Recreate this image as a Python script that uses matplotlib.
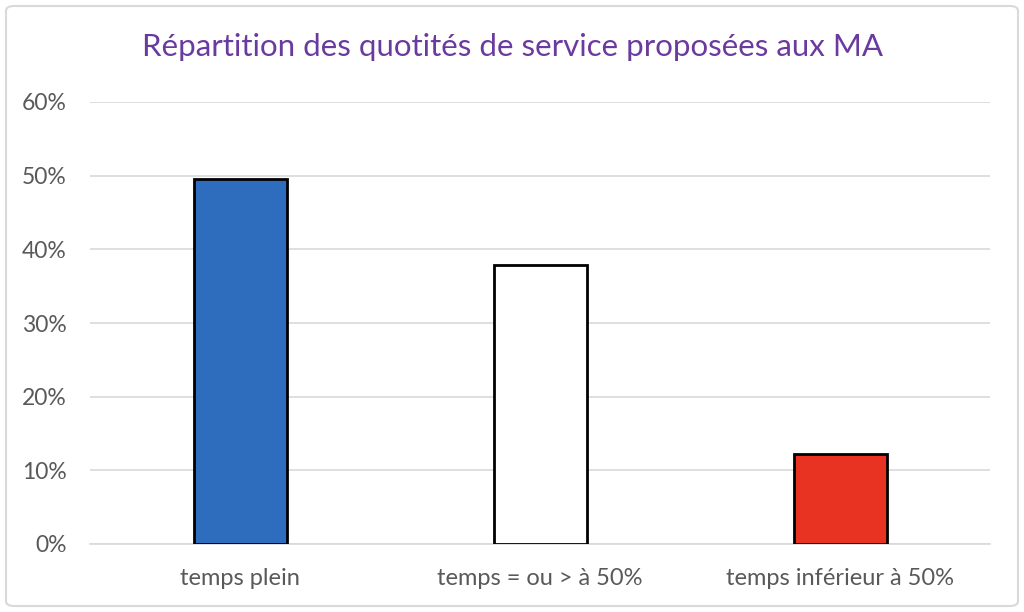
import matplotlib.pyplot as plt
from matplotlib.patches import FancyBboxPatch
from matplotlib.ticker import PercentFormatter

plt.rcParams['font.family'] = ['Lato', 'DejaVu Sans']

categories = ['temps plein', 'temps = ou > à 50%', 'temps inférieur à 50%']
values = [49.5, 37.9, 12.2]
colors = ['#2E6DBE', '#FFFFFF', '#E83323']
yticks = [0, 10, 20, 30, 40, 50, 60]

fig = plt.figure(figsize=(10.24, 6.12), dpi=100)
ax = fig.add_axes([90/1024, 1 - 544/612, 900/1024, 442/612])

# chart border
border = FancyBboxPatch((6/1024, 6/612), 1012/1024, 600/612,
                        boxstyle='round,pad=0,rounding_size=0.008',
                        transform=fig.transFigure, facecolor='none',
                        edgecolor='#D9D9D9', linewidth=1.5)
fig.patches.append(border)

x = range(len(categories))
ax.bar(x, values, width=0.31, color=colors, edgecolor='black',
       linewidth=2, zorder=3)

ax.set_xlim(-0.5, 2.5)
ax.set_ylim(0, 60)
ax.set_yticks(yticks)
ax.yaxis.set_major_formatter(PercentFormatter(decimals=0))
ax.grid(axis='y', color='#D9D9D9', linewidth=1.2, zorder=0)
ax.set_xticks(list(x))
ax.set_xticklabels(categories)

for s in ['top', 'right', 'left']:
    ax.spines[s].set_visible(False)
ax.spines['bottom'].set_color('#D9D9D9')
ax.spines['bottom'].set_linewidth(1.2)
ax.tick_params(axis='both', length=0, colors='#595959')
ax.tick_params(axis='x', pad=17, labelsize=17)
ax.tick_params(axis='y', pad=17, labelsize=16.5)

fig.text(513/1024, 1 - 47/612, 'Répartition des quotités de service proposées aux MA',
         ha='center', va='center', fontsize=22.5, color='#6B3A9E')

fig.savefig('out.png', dpi=100)
